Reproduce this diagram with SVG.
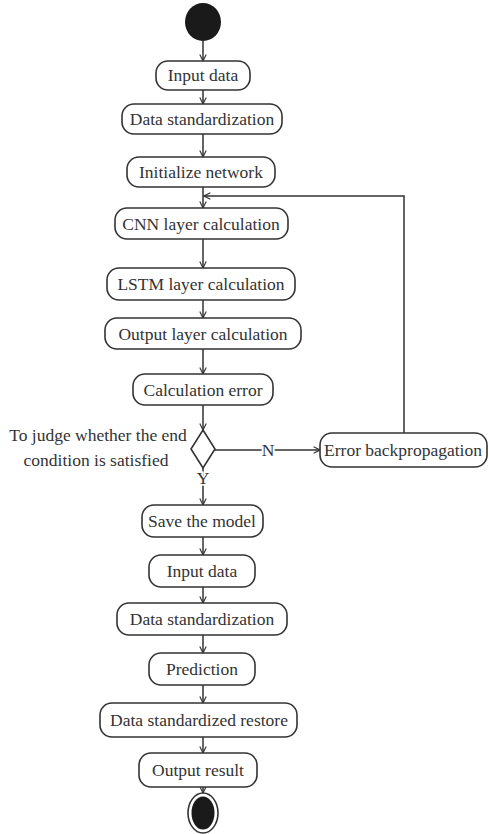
<svg xmlns="http://www.w3.org/2000/svg" width="489" height="834" viewBox="0 0 489 834">
<defs>
<marker id="arr" viewBox="0 0 10 10" refX="9" refY="5" markerWidth="8" markerHeight="8" orient="auto" markerUnits="userSpaceOnUse">
<path d="M1,1 L9,5 L1,9" fill="none" stroke="#333" stroke-width="1.4"/>
</marker>
</defs>
<style>
.box{fill:#fff;stroke:#333;stroke-width:1.6}
.t{font-family:"Liberation Serif","Times New Roman",serif;font-size:17.5px;fill:#333;text-anchor:middle}
.lbl{font-family:"Liberation Serif","Times New Roman",serif;font-size:17.5px;fill:#333;text-anchor:middle}
.c{fill:none;stroke:#333;stroke-width:1.5}
</style>
<rect width="489" height="834" fill="#fff"/>
<g id="connectors">
<line class="c" x1="203" y1="41" x2="203" y2="61" marker-end="url(#arr)"/>
<line class="c" x1="203" y1="90" x2="203" y2="104" marker-end="url(#arr)"/>
<line class="c" x1="203" y1="134" x2="203" y2="157" marker-end="url(#arr)"/>
<line class="c" x1="203" y1="187" x2="203" y2="208" marker-end="url(#arr)"/>
<line class="c" x1="203" y1="239" x2="203" y2="268" marker-end="url(#arr)"/>
<line class="c" x1="203" y1="300" x2="203" y2="318" marker-end="url(#arr)"/>
<line class="c" x1="203" y1="349" x2="203" y2="374" marker-end="url(#arr)"/>
<line class="c" x1="203" y1="405" x2="203" y2="430" marker-end="url(#arr)"/>
<line class="c" x1="203" y1="468" x2="203" y2="505" marker-end="url(#arr)"/>
<line class="c" x1="215" y1="450" x2="320" y2="450" marker-end="url(#arr)"/>
<polyline class="c" points="404,433 404,196 204,196" marker-end="url(#arr)"/>
<line class="c" x1="203" y1="537" x2="203" y2="555" marker-end="url(#arr)"/>
<line class="c" x1="203" y1="587" x2="203" y2="603" marker-end="url(#arr)"/>
<line class="c" x1="203" y1="635" x2="203" y2="653" marker-end="url(#arr)"/>
<line class="c" x1="203" y1="685" x2="203" y2="703" marker-end="url(#arr)"/>
<line class="c" x1="203" y1="737" x2="203" y2="753" marker-end="url(#arr)"/>
<line class="c" x1="203" y1="787" x2="203" y2="793" marker-end="url(#arr)"/>
<text class="lbl" x="268" y="456" font-size="16px" stroke="#fff" stroke-width="4" paint-order="stroke">N</text>
<text class="lbl" x="203" y="484" stroke="#fff" stroke-width="3" paint-order="stroke" font-size="13px">Y</text>
</g>
<g id="start"><ellipse cx="203" cy="22" rx="18" ry="19" fill="#1a1a1a"/></g>
<g id="n1"><rect class="box" x="156" y="61" width="94" height="29" rx="12"/><text class="t" x="203" y="81">Input data</text></g>
<g id="n2"><rect class="box" x="122" y="104" width="160" height="30" rx="12"/><text class="t" x="202" y="125">Data standardization</text></g>
<g id="n3"><rect class="box" x="127" y="157" width="148" height="30" rx="12"/><text class="t" x="201" y="178">Initialize network</text></g>
<g id="n4"><rect class="box" x="115" y="208" width="173" height="31" rx="12"/><text class="t" x="201" y="230">CNN layer calculation</text></g>
<g id="n5"><rect class="box" x="107" y="268" width="188" height="32" rx="12"/><text class="t" x="201" y="290">LSTM layer calculation</text></g>
<g id="n6"><rect class="box" x="105" y="318" width="196" height="31" rx="12"/><text class="t" x="203" y="340">Output layer calculation</text></g>
<g id="n7"><rect class="box" x="133" y="374" width="140" height="31" rx="12"/><text class="t" x="203" y="396">Calculation error</text></g>
<g id="decision"><polygon points="203,430 215,449 203,468 191,449" fill="#fff" stroke="#333" stroke-width="1.6"/>
<text class="lbl" x="98" y="441">To judge whether the end</text>
<text class="lbl" x="96" y="466">condition is satisfied</text></g>
<g id="n8"><rect class="box" x="320" y="433" width="167" height="34" rx="12"/><text class="t" x="403" y="456">Error backpropagation</text></g>
<g id="n9"><rect class="box" x="142" y="505" width="121" height="32" rx="12"/><text class="t" x="202" y="527">Save the model</text></g>
<g id="n10"><rect class="box" x="149" y="555" width="106" height="32" rx="12"/><text class="t" x="202" y="577">Input data</text></g>
<g id="n11"><rect class="box" x="117" y="603" width="170" height="32" rx="12"/><text class="t" x="202" y="625">Data standardization</text></g>
<g id="n12"><rect class="box" x="149" y="653" width="106" height="32" rx="12"/><text class="t" x="202" y="675">Prediction</text></g>
<g id="n13"><rect class="box" x="100" y="703" width="197" height="34" rx="12"/><text class="t" x="199" y="726">Data standardized restore</text></g>
<g id="n14"><rect class="box" x="139" y="753" width="118" height="34" rx="12"/><text class="t" x="198" y="776">Output result</text></g>
<g id="end"><ellipse cx="203" cy="813" rx="15" ry="20" fill="#fff" stroke="#333" stroke-width="1.6"/><ellipse cx="203" cy="813" rx="11.5" ry="16.5" fill="#1a1a1a"/></g>
</svg>
